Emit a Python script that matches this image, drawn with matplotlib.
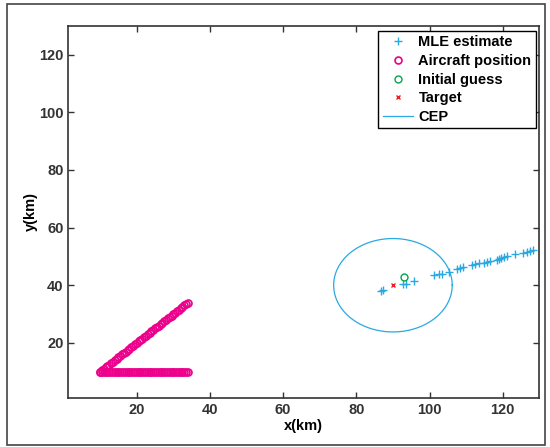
import numpy as np
import matplotlib.pyplot as plt
from matplotlib.patches import Rectangle

plt.rcParams['font.family'] = ['Liberation Sans', 'DejaVu Sans']
plt.rcParams['font.weight'] = 'bold'
plt.rcParams['axes.labelweight'] = 'bold'
plt.rcParams['font.size'] = 10.5

# aircraft track (km): diagonal leg then straight leg at y=10
air_diag_x = [10, 10.5, 11, 11.5, 12, 12.5, 13, 13.5, 14, 14.5, 15, 15.5, 16, 16.5, 17, 17.5,
              18, 18.5, 19, 19.5, 20, 20.5, 21, 21.5, 22, 22.5, 23, 23.5, 24, 24.5, 25, 25.5,
              26, 26.5, 27, 27.5, 28, 28.5, 29, 29.5, 30, 30.5, 31, 31.5, 32, 32.5, 33, 33.5, 34]
air_diag_y = [10, 10.5, 11, 11.5, 12, 12.5, 13, 13.5, 14, 14.5, 15, 15.5, 16, 16.5, 17, 17.5,
              18, 18.5, 19, 19.5, 20, 20.5, 21, 21.5, 22, 22.5, 23, 23.5, 24, 24.5, 25, 25.5,
              26, 26.5, 27, 27.5, 28, 28.5, 29, 29.5, 30, 30.5, 31, 31.5, 32, 32.5, 33, 33.5, 34]
air_flat_x = [10, 10.5, 11, 11.5, 12, 12.5, 13, 13.5, 14, 14.5, 15, 15.5, 16, 16.5, 17, 17.5,
              18, 18.5, 19, 19.5, 20, 20.5, 21, 21.5, 22, 22.5, 23, 23.5, 24, 24.5, 25, 25.5,
              26, 26.5, 27, 27.5, 28, 28.5, 29, 29.5, 30, 30.5, 31, 31.5, 32, 32.5, 33, 33.5, 34]
air_flat_y = [10] * 49

# MLE estimates (km)
mle_x = [86.8, 87.2, 92.8, 93.5, 95.7, 101.2, 102.6, 103.3, 105.2, 107.6, 108.4, 109.1,
         111.7, 112.5, 113.6, 114.8, 115.8, 116.5, 118.4, 119.0, 119.6, 120.3, 121.2,
         123.3, 125.6, 126.5, 127.4, 128.3]
mle_y = [38.0, 38.5, 40.3, 40.6, 41.5, 43.4, 43.9, 44.0, 44.6, 45.6, 45.9, 46.2,
         47.0, 47.3, 47.6, 47.8, 48.0, 48.3, 48.8, 49.1, 49.5, 49.8, 50.1,
         50.7, 51.2, 51.6, 51.9, 52.2]

guess_x, guess_y = [93.0], [42.9]
target_x, target_y = [90.0], [40.0]
cep_center = (90.0, 40.0)
cep_radius = 16.2

fig = plt.figure(figsize=(5.5, 4.47), dpi=100)
ax = fig.add_axes([0.1242, 0.1103, 0.9806 - 0.1242, 0.9425 - 0.1103])

ax.plot(mle_x, mle_y, '+', color='#29a9e1', markersize=6, markeredgewidth=1.0, label='MLE estimate')
ax.plot(air_diag_x + air_flat_x, air_diag_y + air_flat_y, 'o', color='#ec008c',
        markerfacecolor='none', markersize=5, markeredgewidth=1.2, linestyle='none',
        label='Aircraft position')
ax.plot(guess_x, guess_y, 'o', color='#00a651', markerfacecolor='none', markersize=5,
        markeredgewidth=1.0, label='Initial guess')
ax.plot(target_x, target_y, 'x', color='#ed1c24', markersize=3.5, markeredgewidth=1.0, label='Target')
t = np.linspace(0, 2 * np.pi, 200)
ax.plot(cep_center[0] + cep_radius * np.cos(t), cep_center[1] + cep_radius * np.sin(t),
        '-', color='#29a9e1', linewidth=0.9, label='CEP')

ax.set_xlim(1.3, 130)
ax.set_ylim(1, 130)
ax.set_xticks([20, 40, 60, 80, 100, 120])
ax.set_yticks([20, 40, 60, 80, 100, 120])
ax.tick_params(direction='in', top=True, right=True, length=4, width=1, colors='#333333')
for s in ax.spines.values():
    s.set_linewidth(1.2)
    s.set_color('#333333')
ax.set_xlabel('x(km)', labelpad=2)
ax.set_ylabel('y(km)')
ax.yaxis.set_label_coords(-0.064, 0.5)

leg = ax.legend(loc='upper right', bbox_to_anchor=(0.9924, 0.9857), borderaxespad=0,
                fancybox=False, edgecolor='black', framealpha=1, handlelength=2.1,
                handletextpad=0.35, labelspacing=0.32, borderpad=0.3, numpoints=1)
leg.get_frame().set_linewidth(1.0)

fig.patches.append(Rectangle((6.7 / 550, 2 / 447), (545 - 6.7) / 550, (444 - 3.3) / 447,
                             transform=fig.transFigure, fill=False, edgecolor='#444444', linewidth=1.2))

fig.savefig('out.png', dpi=100)
